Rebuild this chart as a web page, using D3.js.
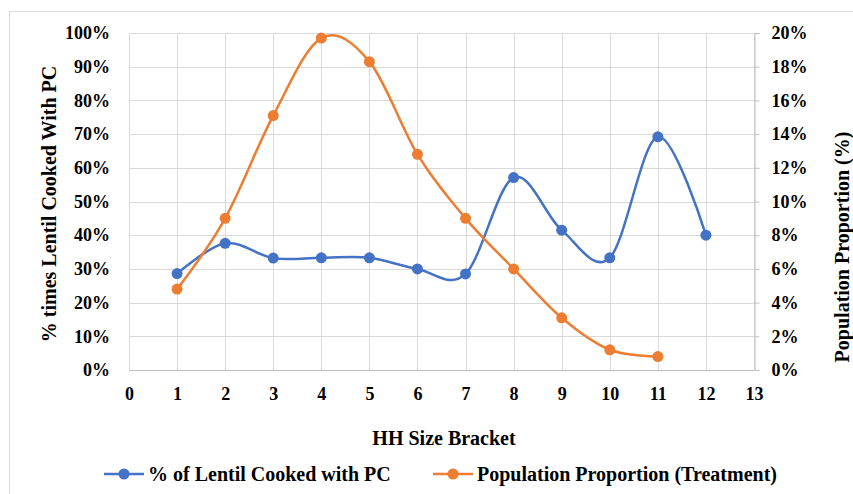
<!DOCTYPE html>
<html>
<head>
<meta charset="utf-8">
<script src="https://cdn.jsdelivr.net/npm/d3@7"></script>
<style>
  html, body { margin: 0; padding: 0; background: #fff; }
  svg text { font-family: "Liberation Serif", "Times New Roman", serif !important; font-weight: bold; fill: #000; }
</style>
</head>
<body>
<svg id="chart" width="853" height="494"></svg>
<script>
// Household size brackets and the two series
const brackets = [1, 2, 3, 4, 5, 6, 7, 8, 9, 10, 11, 12];
const lentilPC = [0.286, 0.376, 0.332, 0.333, 0.333, 0.30, 0.285, 0.571, 0.415, 0.333, 0.692, 0.40];
const popBrackets = [1, 2, 3, 4, 5, 6, 7, 8, 9, 10, 11];
const popProportion = [0.048, 0.090, 0.151, 0.197, 0.183, 0.128, 0.090, 0.060, 0.031, 0.012, 0.008];
const xTicks = d3.range(0, 14);
const leftTicks = d3.range(0, 1.0001, 0.1);
const rightTicks = d3.range(0, 0.2001, 0.02);
const seriesNames = ["% of Lentil Cooked with PC", "Population Proportion (Treatment)"];
const colors = ["#4472c4", "#ed7d31"];

const svg = d3.select("#chart");
const m = { left: 129, right: 754, top: 33, bottom: 370 };
const font = "'Liberation Serif', 'Times New Roman', serif";

// outer chart frame
svg.append("rect").attr("x", 9.5).attr("y", 11.5).attr("width", 860).attr("height", 500)
  .attr("fill", "none").attr("stroke", "#d9d9d9").attr("stroke-width", 1);

const x = d3.scaleLinear().domain([0, 13]).range([m.left, m.right]);
const yL = d3.scaleLinear().domain([0, 1]).range([m.bottom, m.top]);
const yR = d3.scaleLinear().domain([0, 0.2]).range([m.bottom, m.top]);

// gridlines
const grid = svg.append("g");
grid.selectAll("line.h").data(leftTicks.slice(1)).join("line")
  .attr("x1", m.left).attr("x2", m.right)
  .attr("y1", d => Math.round(yL(d)) + 0.5).attr("y2", d => Math.round(yL(d)) + 0.5)
  .attr("stroke", "#d9d9d9").attr("stroke-width", 1);
grid.selectAll("line.v").data(xTicks.slice(1)).join("line")
  .attr("y1", m.top).attr("y2", m.bottom)
  .attr("x1", d => Math.round(x(d)) + 0.5).attr("x2", d => Math.round(x(d)) + 0.5)
  .attr("stroke", "#d9d9d9").attr("stroke-width", 1);

// axis lines
svg.append("line").attr("x1", m.left + 0.5).attr("x2", m.left + 0.5).attr("y1", m.top).attr("y2", m.bottom)
  .attr("stroke", "#d9d9d9");
svg.append("line").attr("x1", m.left).attr("x2", m.right).attr("y1", m.bottom + 0.5).attr("y2", m.bottom + 0.5)
  .attr("stroke", "#bfbfbf");

// left axis
const leftAxis = svg.append("g").attr("transform", `translate(${m.left},0)`)
  .call(d3.axisLeft(yL).tickValues(leftTicks).tickFormat(d3.format(".0%")).tickSize(0).tickPadding(19));
leftAxis.attr("font-family", font).attr("font-size", 18);
leftAxis.select(".domain").remove();

// right axis with outside ticks
const rightAxis = svg.append("g").attr("transform", `translate(${m.right + 0.5},0)`)
  .call(d3.axisRight(yR).tickValues(rightTicks).tickFormat(d3.format(".0%")).tickSizeOuter(0).tickSize(5).tickPadding(12));
rightAxis.attr("font-family", font).attr("font-size", 18);
rightAxis.select(".domain").attr("stroke", "#bfbfbf");
rightAxis.selectAll(".tick line").attr("stroke", "#bfbfbf");

// bottom axis
const bottomAxis = svg.append("g").attr("transform", `translate(0,${m.bottom})`)
  .call(d3.axisBottom(x).tickValues(xTicks).tickFormat(d3.format("d")).tickSize(0).tickPadding(17));
bottomAxis.attr("font-family", font).attr("font-size", 18);
bottomAxis.select(".domain").remove();

// axis titles
svg.append("text").attr("x", 444).attr("y", 445).attr("text-anchor", "middle")
  .style("font-size", "20px").text("HH Size Bracket");
svg.append("text").attr("transform", `translate(56,204) rotate(-90)`)
  .attr("text-anchor", "middle").style("font-size", "20px").text("% times Lentil Cooked With PC");
svg.append("text").attr("transform", `translate(849,247) rotate(-90)`)
  .attr("text-anchor", "middle").style("font-size", "20px").text("Population Proportion (%)");

// series lines (smoothed) and markers
const curve = d3.curveCatmullRom.alpha(0);
const lineL = d3.line().x((d, i) => x(brackets[i])).y(d => yL(d)).curve(curve);
const lineR = d3.line().x((d, i) => x(popBrackets[i])).y(d => yR(d)).curve(curve);

svg.append("path").attr("d", lineL(lentilPC)).attr("fill", "none")
  .attr("stroke", colors[0]).attr("stroke-width", 2.5);
svg.append("path").attr("d", lineR(popProportion)).attr("fill", "none")
  .attr("stroke", colors[1]).attr("stroke-width", 2.5);

svg.append("g").selectAll("circle").data(lentilPC).join("circle")
  .attr("cx", (d, i) => x(brackets[i])).attr("cy", d => yL(d)).attr("r", 5.5).attr("fill", colors[0]);
svg.append("g").selectAll("circle").data(popProportion).join("circle")
  .attr("cx", (d, i) => x(popBrackets[i])).attr("cy", d => yR(d)).attr("r", 5.5).attr("fill", colors[1]);

// legend
const legendItems = [{ x: 104, name: seriesNames[0], color: colors[0] }, { x: 433, name: seriesNames[1], color: colors[1] }];
const lg = svg.append("g").selectAll("g").data(legendItems).join("g")
  .attr("transform", d => `translate(${d.x},474)`);
lg.append("line").attr("x1", 0).attr("x2", 40).attr("y1", 0).attr("y2", 0)
  .attr("stroke", d => d.color).attr("stroke-width", 2.5);
lg.append("circle").attr("cx", 20).attr("cy", 0).attr("r", 5.5).attr("fill", d => d.color);
lg.append("text").attr("x", 44).attr("y", 7).style("font-size", "20px").text(d => d.name);
</script>
</body>
</html>
